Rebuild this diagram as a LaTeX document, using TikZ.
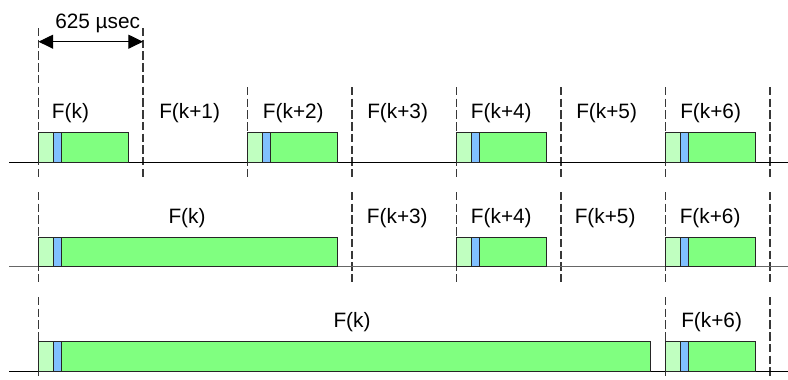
\documentclass[tikz,border=0pt]{standalone}
\usepackage{fontspec}
\setmainfont{Liberation Sans}
\usetikzlibrary{arrows.meta}

\definecolor{lightgrn}{HTML}{C0FFC0}
\definecolor{hdrblue}{HTML}{80C0FF}
\definecolor{maingrn}{HTML}{80FF80}
\definecolor{slotgray}{HTML}{383838}

% one packet: access code (light), header (blue), payload (green)
\newcommand\pktblock[3]{% #1 start x, #2 baseline y, #3 total length
  \draw[pktedge, fill=lightgrn] (#1,#2) rectangle (#1+15,#2-29.3);
  \draw[pktedge, fill=hdrblue] (#1+15,#2) rectangle (#1+23,#2-29.3);
  \draw[pktedge, fill=maingrn] (#1+23,#2) rectangle (#1+#3,#2-29.3);
}

\begin{document}
\begin{tikzpicture}[x=0.75pt,y=-0.75pt,
  pktedge/.style={draw=black!85, line width=0.75pt},
  slotline/.style={draw=slotgray, line width=0.8pt, dash pattern=on 6.3pt off 2.5pt},
  baseln/.style={draw=black, line width=0.75pt},
  tip/.style={Triangle[length=11pt,width=10.5pt]},
  lbl/.style={font=\fontsize{15.6}{18}\selectfont, inner sep=0pt, anchor=base west},
  lblc/.style={font=\fontsize{15.6}{18}\selectfont, inner sep=0pt, anchor=base}]
\useasboundingbox (0,0) rectangle (788,379);

% slot boundaries, one segment per row
\foreach \x in {38.5,143} \draw[slotline] (\x,28) -- (\x,177);
\foreach \x in {247.5,352,456.5,561,665.5,770} \draw[slotline] (\x,87) -- (\x,177);
\foreach \x in {38.5,352,456.5,561,665.5,770} \draw[slotline] (\x,192) -- (\x,281.5);
\foreach \x in {38.5,665.5,770} \draw[slotline] (\x,297) -- (\x,379);

% slot length
\coordinate (s0) at (38.5,41.7);
\coordinate (s1) at (143,41.7);
\draw[line width=0.75pt, {Triangle[length=11pt,width=10.5pt]}-{Triangle[length=11pt,width=10.5pt]}] (s0) -- (s1);
\node[lbl] (dur) at (55,28) {625 µsec};

% time axes
\coordinate (a1) at (9,162);   \coordinate (b1) at (788,162);
\coordinate (a2) at (9,266.5); \coordinate (b2) at (788,266.5);
\coordinate (a3) at (9,371);   \coordinate (b3) at (788,371);
\draw[baseln] (a1) -- (b1);
\draw[baseln, draw=black!60] (a2) -- (b2);
\draw[baseln] (a3) -- (b3);

% row 1: single-slot packets
\pktblock{38.5}{162}{90}
\pktblock{247.5}{162}{90}
\pktblock{456.5}{162}{90}
\pktblock{665.5}{162}{90}
\node[lbl] (r1k)  at (51.7,118) {F(k)};
\node[lbl] (r1k1) at (159,118) {F(k+1)};
\node[lbl] (r1k2) at (262.7,118) {F(k+2)};
\node[lbl] (r1k3) at (367,118) {F(k+3)};
\node[lbl] (r1k4) at (470.7,118) {F(k+4)};
\node[lbl] (r1k5) at (576,118) {F(k+5)};
\node[lbl] (r1k6) at (680,118) {F(k+6)};

% row 2: three-slot packet
\pktblock{38.5}{266.5}{298.5}
\pktblock{456.5}{266.5}{90}
\pktblock{665.5}{266.5}{90}
\node[lblc] (r2k)  at (187,223) {F(k)};
\node[lbl] (r2k3) at (366.7,223) {F(k+3)};
\node[lbl] (r2k4) at (470.7,223) {F(k+4)};
\node[lbl] (r2k5) at (574.5,223) {F(k+5)};
\node[lbl] (r2k6) at (679.5,223) {F(k+6)};

% row 3: five-slot packet
\pktblock{38.5}{371}{611.5}
\pktblock{665.5}{371}{90}
\node[lblc] (r3k)  at (352,327.5) {F(k)};
\node[lbl] (r3k6) at (681,327.5) {F(k+6)};
\end{tikzpicture}
\end{document}
